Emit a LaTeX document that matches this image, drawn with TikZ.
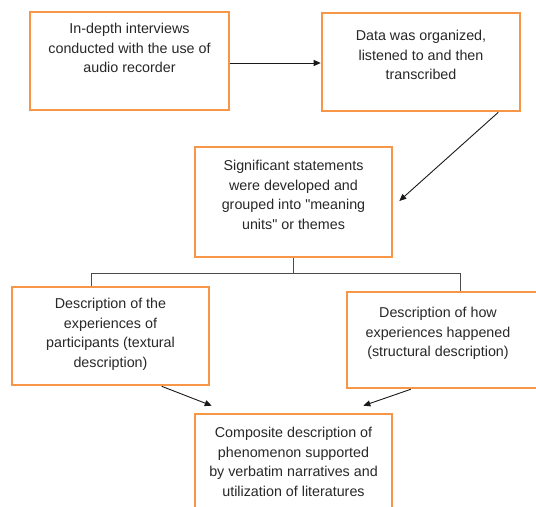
\documentclass[tikz,border=0pt]{standalone}
\usepackage{fontspec}
\setmainfont{Liberation Sans}[Ligatures=TeXOff]
\usetikzlibrary{arrows.meta,calc}
\definecolor{boxorange}{RGB}{247,150,70}
\definecolor{txtgray}{RGB}{40,40,40}
\tikzset{
  box/.style={draw=boxorange, line width=2.6bp, fill=white, rectangle, inner sep=0pt},
  lbl/.style={anchor=north, align=center, text=txtgray, inner sep=0pt,
    font=\fontsize{14.3bp}{19.6bp}\selectfont},
  arr/.style={draw=black!90, line width=0.9bp, -{Triangle[length=7bp,width=6bp]}},
  tree/.style={draw=black!70, line width=0.9bp}
}
\begin{document}
\begin{tikzpicture}[x=1bp,y=-1bp]
\useasboundingbox (0,0) rectangle (536,507);
\clip (0,0) rectangle (536,507);
% boxes
\node[box, minimum width=199bp, minimum height=98bp] (b1) at (129.5,61) {};
\node[box, minimum width=198bp, minimum height=98bp] (b2) at (421,62) {};
\node[box, minimum width=197bp, minimum height=110bp] (b3) at (293.5,202) {};
\node[box, minimum width=197bp, minimum height=98bp] (b4) at (110.5,336) {};
\node[box, minimum width=193bp, minimum height=96bp] (b5) at (443.5,340) {};
\node[box, minimum width=197bp, minimum height=106bp] (b6) at (293.5,467) {};
% texts
\node[lbl] (t1) at (129.5,23) {In-depth interviews\\conducted with the use of\\audio recorder};
\node[lbl] (t2) at (421,30) {Data was organized,\\listened to and then\\transcribed};
\node[lbl] (t3) at (293.5,160) {Significant statements\\were developed and\\grouped into "meaning\\units" or themes};
\node[lbl] (t4) at (110.5,298) {Description of the\\experiences of\\participants (textural\\description)};
\node[lbl] (t5) at (438,307) {Description of how\\experiences happened\\(structural description)};
\node[lbl] (t6) at (293.5,427) {Composite description of\\phenomenon supported\\by verbatim narratives and\\utilization of literatures};
% connectors
\draw[arr] (b1.east |- 0,63) -- (b2.west |- 0,63);
\draw[arr] ($(b2.south east)+(-23,0)$) -- ($(b3.east)+(6,-1)$);
\coordinate (j) at ($(b3.south)+(0,15)$);
\draw[tree] (b3.south) -- (j);
\draw[tree] ($(b4.north west)+(81,0)$) |- (j) -| ($(b5.north west)+(115,0)$);
\draw[arr] ($(b4.south west)+(151,0)$) -- ($(b6.north west)+(18,-7)$);
\draw[arr] ($(b5.south west)+(65,0)$) -- ($(b6.north east)+(-30,-7)$);
\end{tikzpicture}
\end{document}
